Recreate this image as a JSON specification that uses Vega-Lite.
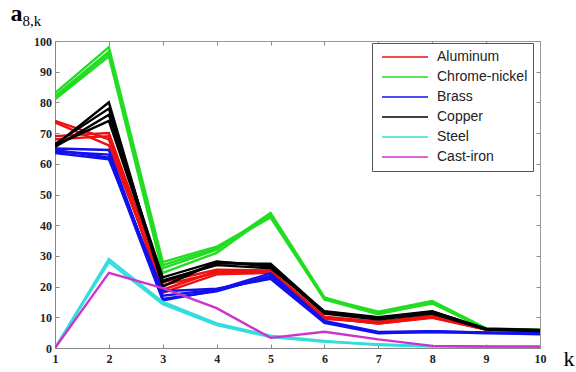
{
 "$schema": "https://vega.github.io/schema/vega-lite/v6.json",
 "width": 485, "height": 307,
 "autosize": {"type": "none"},
 "padding": {"left": 55, "top": 41, "right": 36, "bottom": 24},
 "background": "white",
 "data": {"values": [
  {"m":"Aluminum","r":"A1","k":1,"a":74},{"m":"Aluminum","r":"A1","k":2,"a":68},{"m":"Aluminum","r":"A1","k":3,"a":19},{"m":"Aluminum","r":"A1","k":4,"a":25},{"m":"Aluminum","r":"A1","k":5,"a":25},{"m":"Aluminum","r":"A1","k":6,"a":10},{"m":"Aluminum","r":"A1","k":7,"a":8},{"m":"Aluminum","r":"A1","k":8,"a":10},{"m":"Aluminum","r":"A1","k":9,"a":6},{"m":"Aluminum","r":"A1","k":10,"a":5.5},
  {"m":"Aluminum","r":"A2","k":1,"a":73.5},{"m":"Aluminum","r":"A2","k":2,"a":66},{"m":"Aluminum","r":"A2","k":3,"a":20.5},{"m":"Aluminum","r":"A2","k":4,"a":24.5},{"m":"Aluminum","r":"A2","k":5,"a":24.5},{"m":"Aluminum","r":"A2","k":6,"a":9.5},{"m":"Aluminum","r":"A2","k":7,"a":8.3},{"m":"Aluminum","r":"A2","k":8,"a":10.3},{"m":"Aluminum","r":"A2","k":9,"a":6},{"m":"Aluminum","r":"A2","k":10,"a":5.5},
  {"m":"Aluminum","r":"A3","k":1,"a":69},{"m":"Aluminum","r":"A3","k":2,"a":70},{"m":"Aluminum","r":"A3","k":3,"a":21.5},{"m":"Aluminum","r":"A3","k":4,"a":25.5},{"m":"Aluminum","r":"A3","k":5,"a":25.3},{"m":"Aluminum","r":"A3","k":6,"a":10.2},{"m":"Aluminum","r":"A3","k":7,"a":8.6},{"m":"Aluminum","r":"A3","k":8,"a":10.6},{"m":"Aluminum","r":"A3","k":9,"a":6.2},{"m":"Aluminum","r":"A3","k":10,"a":5.7},
  {"m":"Aluminum","r":"A4","k":1,"a":68},{"m":"Aluminum","r":"A4","k":2,"a":69},{"m":"Aluminum","r":"A4","k":3,"a":18},{"m":"Aluminum","r":"A4","k":4,"a":24},{"m":"Aluminum","r":"A4","k":5,"a":24.5},{"m":"Aluminum","r":"A4","k":6,"a":9.8},{"m":"Aluminum","r":"A4","k":7,"a":8},{"m":"Aluminum","r":"A4","k":8,"a":9.8},{"m":"Aluminum","r":"A4","k":9,"a":6},{"m":"Aluminum","r":"A4","k":10,"a":5.5},
  {"m":"Chrome-nickel","r":"G1","k":1,"a":81},{"m":"Chrome-nickel","r":"G1","k":2,"a":95},{"m":"Chrome-nickel","r":"G1","k":3,"a":24.5},{"m":"Chrome-nickel","r":"G1","k":4,"a":31},{"m":"Chrome-nickel","r":"G1","k":5,"a":43.5},{"m":"Chrome-nickel","r":"G1","k":6,"a":16},{"m":"Chrome-nickel","r":"G1","k":7,"a":11.5},{"m":"Chrome-nickel","r":"G1","k":8,"a":15},{"m":"Chrome-nickel","r":"G1","k":9,"a":6.3},{"m":"Chrome-nickel","r":"G1","k":10,"a":5.8},
  {"m":"Chrome-nickel","r":"G2","k":1,"a":82},{"m":"Chrome-nickel","r":"G2","k":2,"a":96.5},{"m":"Chrome-nickel","r":"G2","k":3,"a":26},{"m":"Chrome-nickel","r":"G2","k":4,"a":32},{"m":"Chrome-nickel","r":"G2","k":5,"a":44},{"m":"Chrome-nickel","r":"G2","k":6,"a":16.5},{"m":"Chrome-nickel","r":"G2","k":7,"a":11.2},{"m":"Chrome-nickel","r":"G2","k":8,"a":14.5},{"m":"Chrome-nickel","r":"G2","k":9,"a":6.2},{"m":"Chrome-nickel","r":"G2","k":10,"a":5.9},
  {"m":"Chrome-nickel","r":"G3","k":1,"a":83},{"m":"Chrome-nickel","r":"G3","k":2,"a":98},{"m":"Chrome-nickel","r":"G3","k":3,"a":28},{"m":"Chrome-nickel","r":"G3","k":4,"a":33},{"m":"Chrome-nickel","r":"G3","k":5,"a":43},{"m":"Chrome-nickel","r":"G3","k":6,"a":16.2},{"m":"Chrome-nickel","r":"G3","k":7,"a":11.8},{"m":"Chrome-nickel","r":"G3","k":8,"a":15.3},{"m":"Chrome-nickel","r":"G3","k":9,"a":6.4},{"m":"Chrome-nickel","r":"G3","k":10,"a":6},
  {"m":"Chrome-nickel","r":"G4","k":1,"a":81.5},{"m":"Chrome-nickel","r":"G4","k":2,"a":96},{"m":"Chrome-nickel","r":"G4","k":3,"a":27},{"m":"Chrome-nickel","r":"G4","k":4,"a":32.5},{"m":"Chrome-nickel","r":"G4","k":5,"a":42.5},{"m":"Chrome-nickel","r":"G4","k":6,"a":15.8},{"m":"Chrome-nickel","r":"G4","k":7,"a":11},{"m":"Chrome-nickel","r":"G4","k":8,"a":14.8},{"m":"Chrome-nickel","r":"G4","k":9,"a":6.1},{"m":"Chrome-nickel","r":"G4","k":10,"a":5.8},
  {"m":"Brass","r":"B1","k":1,"a":65},{"m":"Brass","r":"B1","k":2,"a":64.5},{"m":"Brass","r":"B1","k":3,"a":16},{"m":"Brass","r":"B1","k":4,"a":18.5},{"m":"Brass","r":"B1","k":5,"a":23.5},{"m":"Brass","r":"B1","k":6,"a":8.5},{"m":"Brass","r":"B1","k":7,"a":5},{"m":"Brass","r":"B1","k":8,"a":5.2},{"m":"Brass","r":"B1","k":9,"a":5},{"m":"Brass","r":"B1","k":10,"a":4.8},
  {"m":"Brass","r":"B2","k":1,"a":64},{"m":"Brass","r":"B2","k":2,"a":63},{"m":"Brass","r":"B2","k":3,"a":17},{"m":"Brass","r":"B2","k":4,"a":19},{"m":"Brass","r":"B2","k":5,"a":24.3},{"m":"Brass","r":"B2","k":6,"a":8.8},{"m":"Brass","r":"B2","k":7,"a":5.2},{"m":"Brass","r":"B2","k":8,"a":5.5},{"m":"Brass","r":"B2","k":9,"a":5},{"m":"Brass","r":"B2","k":10,"a":4.6},
  {"m":"Brass","r":"B3","k":1,"a":63.5},{"m":"Brass","r":"B3","k":2,"a":61.5},{"m":"Brass","r":"B3","k":3,"a":18.5},{"m":"Brass","r":"B3","k":4,"a":19.3},{"m":"Brass","r":"B3","k":5,"a":22.5},{"m":"Brass","r":"B3","k":6,"a":8.2},{"m":"Brass","r":"B3","k":7,"a":4.8},{"m":"Brass","r":"B3","k":8,"a":5.3},{"m":"Brass","r":"B3","k":9,"a":4.8},{"m":"Brass","r":"B3","k":10,"a":4.5},
  {"m":"Brass","r":"B4","k":1,"a":64.5},{"m":"Brass","r":"B4","k":2,"a":62},{"m":"Brass","r":"B4","k":3,"a":15.5},{"m":"Brass","r":"B4","k":4,"a":18.8},{"m":"Brass","r":"B4","k":5,"a":23},{"m":"Brass","r":"B4","k":6,"a":8.6},{"m":"Brass","r":"B4","k":7,"a":5},{"m":"Brass","r":"B4","k":8,"a":5.4},{"m":"Brass","r":"B4","k":9,"a":5.1},{"m":"Brass","r":"B4","k":10,"a":4.7},
  {"m":"Copper","r":"C1","k":1,"a":66},{"m":"Copper","r":"C1","k":2,"a":80},{"m":"Copper","r":"C1","k":3,"a":20},{"m":"Copper","r":"C1","k":4,"a":28},{"m":"Copper","r":"C1","k":5,"a":27},{"m":"Copper","r":"C1","k":6,"a":11.5},{"m":"Copper","r":"C1","k":7,"a":9.5},{"m":"Copper","r":"C1","k":8,"a":11.5},{"m":"Copper","r":"C1","k":9,"a":6.2},{"m":"Copper","r":"C1","k":10,"a":5.8},
  {"m":"Copper","r":"C2","k":1,"a":66.5},{"m":"Copper","r":"C2","k":2,"a":78},{"m":"Copper","r":"C2","k":3,"a":21.5},{"m":"Copper","r":"C2","k":4,"a":27.5},{"m":"Copper","r":"C2","k":5,"a":27.5},{"m":"Copper","r":"C2","k":6,"a":11.8},{"m":"Copper","r":"C2","k":7,"a":9.8},{"m":"Copper","r":"C2","k":8,"a":11.8},{"m":"Copper","r":"C2","k":9,"a":6.3},{"m":"Copper","r":"C2","k":10,"a":5.9},
  {"m":"Copper","r":"C3","k":1,"a":65.5},{"m":"Copper","r":"C3","k":2,"a":76},{"m":"Copper","r":"C3","k":3,"a":23},{"m":"Copper","r":"C3","k":4,"a":28.2},{"m":"Copper","r":"C3","k":5,"a":26.5},{"m":"Copper","r":"C3","k":6,"a":11.2},{"m":"Copper","r":"C3","k":7,"a":9.3},{"m":"Copper","r":"C3","k":8,"a":11.2},{"m":"Copper","r":"C3","k":9,"a":6},{"m":"Copper","r":"C3","k":10,"a":5.6},
  {"m":"Copper","r":"C4","k":1,"a":66},{"m":"Copper","r":"C4","k":2,"a":74},{"m":"Copper","r":"C4","k":3,"a":22},{"m":"Copper","r":"C4","k":4,"a":27},{"m":"Copper","r":"C4","k":5,"a":26},{"m":"Copper","r":"C4","k":6,"a":12},{"m":"Copper","r":"C4","k":7,"a":10},{"m":"Copper","r":"C4","k":8,"a":12},{"m":"Copper","r":"C4","k":9,"a":6.2},{"m":"Copper","r":"C4","k":10,"a":5.5},
  {"m":"Steel","r":"S1","k":1,"a":0},{"m":"Steel","r":"S1","k":2,"a":29},{"m":"Steel","r":"S1","k":3,"a":15},{"m":"Steel","r":"S1","k":4,"a":8},{"m":"Steel","r":"S1","k":5,"a":4},{"m":"Steel","r":"S1","k":6,"a":2.3},{"m":"Steel","r":"S1","k":7,"a":1},{"m":"Steel","r":"S1","k":8,"a":0.5},{"m":"Steel","r":"S1","k":9,"a":0.3},{"m":"Steel","r":"S1","k":10,"a":0.2},
  {"m":"Steel","r":"S2","k":1,"a":0},{"m":"Steel","r":"S2","k":2,"a":28},{"m":"Steel","r":"S2","k":3,"a":14.3},{"m":"Steel","r":"S2","k":4,"a":7.5},{"m":"Steel","r":"S2","k":5,"a":3.6},{"m":"Steel","r":"S2","k":6,"a":2},{"m":"Steel","r":"S2","k":7,"a":1.2},{"m":"Steel","r":"S2","k":8,"a":0.6},{"m":"Steel","r":"S2","k":9,"a":0.4},{"m":"Steel","r":"S2","k":10,"a":0.2},
  {"m":"Cast-iron","r":"I1","k":1,"a":0},{"m":"Cast-iron","r":"I1","k":2,"a":24.5},{"m":"Cast-iron","r":"I1","k":3,"a":19.5},{"m":"Cast-iron","r":"I1","k":4,"a":13},{"m":"Cast-iron","r":"I1","k":5,"a":3.3},{"m":"Cast-iron","r":"I1","k":6,"a":5.3},{"m":"Cast-iron","r":"I1","k":7,"a":2.8},{"m":"Cast-iron","r":"I1","k":8,"a":0.7},{"m":"Cast-iron","r":"I1","k":9,"a":0.5},{"m":"Cast-iron","r":"I1","k":10,"a":0.5}
 ]},
 "layer": [
  {
   "mark": {"type": "line", "strokeWidth": 2.4, "clip": true},
   "encoding": {
    "x": {"field": "k", "type": "quantitative", "scale": {"domain": [1, 10], "nice": false, "zero": false},
      "axis": {"orient": "bottom", "values": [1,2,3,4,5,6,7,8,9,10], "grid": false, "labelFont": "Liberation Serif", "labelFontWeight": "bold", "labelFontSize": 12, "labelColor": "#222", "domainColor": "#888", "tickColor": "#888", "tickSize": -4, "labelPadding": 9, "labelFlush": false,
        "title": "k", "titleFont": "Liberation Serif", "titleFontSize": 22, "titleFontWeight": "normal", "titleColor": "#000", "titleX": 508, "titleY": 17, "titleAlign": "left", "titleBaseline": "alphabetic", "titleAnchor": null}},
    "y": {"field": "a", "type": "quantitative", "scale": {"domain": [0, 100], "nice": false},
      "axis": {"orient": "left", "values": [0,10,20,30,40,50,60,70,80,90,100], "grid": false, "labelFont": "Liberation Serif", "labelFontWeight": "bold", "labelFontSize": 12, "labelColor": "#222", "domainColor": "#888", "tickColor": "#888", "tickSize": -4, "labelPadding": 7.5, "labelFlush": false,
        "title": "a", "titleFont": "Liberation Serif", "titleFontSize": 24, "titleFontWeight": "bold", "titleColor": "#000", "titleAngle": 0, "titleX": -45, "titleY": -21, "titleAlign": "left", "titleBaseline": "alphabetic"}},
    "color": {"field": "m", "type": "nominal",
      "scale": {"domain": ["Aluminum", "Chrome-nickel", "Brass", "Copper", "Steel", "Cast-iron"], "range": ["#ee1111", "#22dd22", "#1111ee", "#000000", "#33dddd", "#cc33cc"]},
      "legend": {"orient": "none", "legendX": 317, "legendY": 2, "title": null, "symbolType": "stroke", "symbolSize": 2116, "symbolStrokeWidth": 1.5, "clipHeight": 18, "rowPadding": 2, "padding": 5, "symbolOffset": 4, "labelOffset": 8, "labelFont": "Liberation Sans", "labelFontSize": 14, "labelColor": "#222", "strokeColor": "#555", "fillColor": "white", "cornerRadius": 0}},
    "detail": {"field": "r"},
    "order": {"field": "k"}
   }
  },
  {
   "mark": {"type": "line", "opacity": 0},
   "encoding": {
    "x": {"field": "k", "type": "quantitative", "scale": {"domain": [1, 10], "nice": false, "zero": false},
      "axis": {"orient": "top", "values": [1,2,3,4,5,6,7,8,9,10], "labels": false, "grid": false, "domainColor": "#999", "tickColor": "#888", "tickSize": -4,
        "title": "8,k", "titleFont": "Liberation Serif", "titleFontSize": 15, "titleFontWeight": "normal", "titleColor": "#000", "titleX": -33, "titleY": -16, "titleAlign": "left", "titleBaseline": "alphabetic", "titleAnchor": null}},
    "y": {"field": "a", "type": "quantitative", "scale": {"domain": [0, 100], "nice": false},
      "axis": {"orient": "right", "values": [0,10,20,30,40,50,60,70,80,90,100], "labels": false, "grid": false, "title": null, "domainColor": "#999", "tickColor": "#888", "tickSize": -4}},
    "detail": {"field": "r"}
   }
  }
 ],
 "resolve": {"axis": {"x": "independent", "y": "independent"}},
 "config": {"view": {"stroke": null}}
}
